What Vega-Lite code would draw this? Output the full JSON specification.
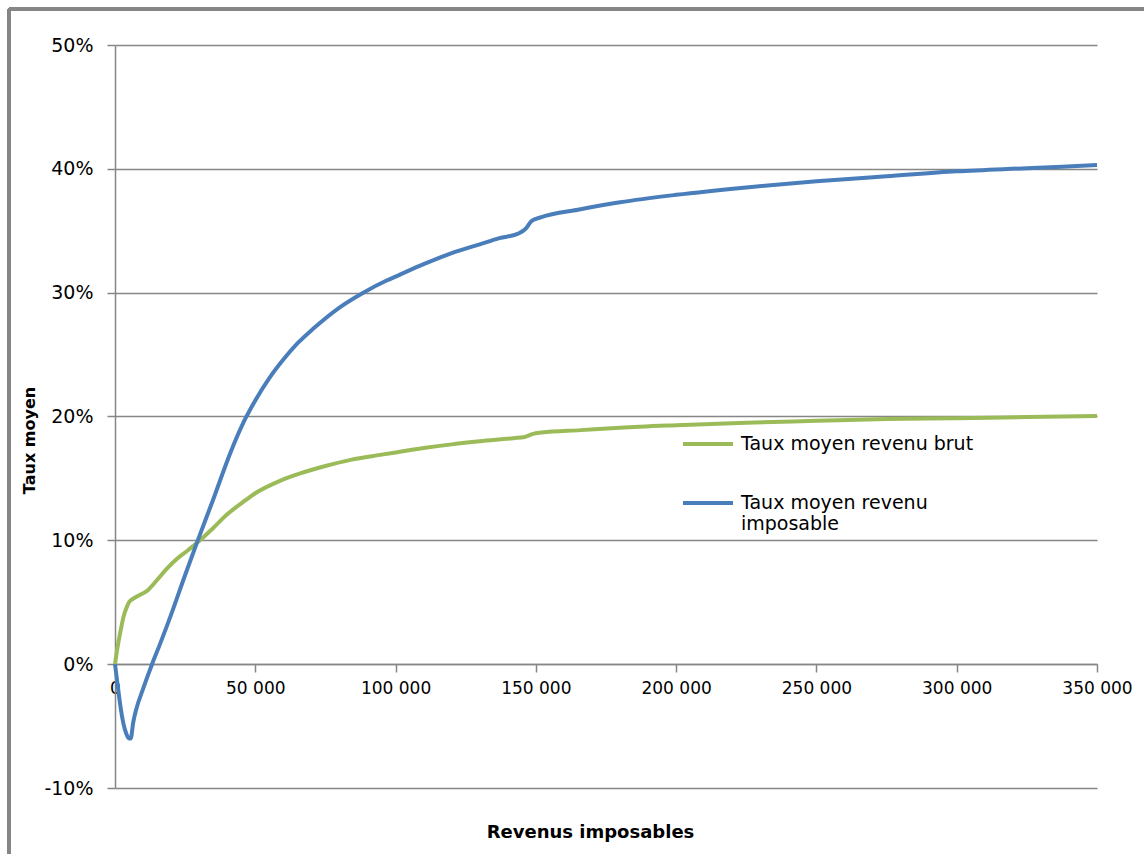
{
  "$schema": "https://vega.github.io/schema/vega-lite/v6.json",
  "autosize": "none",
  "width": 982,
  "height": 743,
  "padding": {"left": 115, "top": 45, "right": 47, "bottom": 66},
  "background": "white",
  "config": {
    "font": "DejaVu Sans",
    "view": {"stroke": null},
    "axis": {"labelFont": "DejaVu Sans", "titleFont": "DejaVu Sans", "labelColor": "#000000", "titleColor": "#000000"}
  },
  "data": {
    "values": [
      {"x": 0, "serie": "Taux moyen revenu brut", "taux": 0},
      {"x": 1000, "serie": "Taux moyen revenu brut", "taux": 0.015},
      {"x": 2000, "serie": "Taux moyen revenu brut", "taux": 0.027},
      {"x": 3000, "serie": "Taux moyen revenu brut", "taux": 0.038},
      {"x": 4170, "serie": "Taux moyen revenu brut", "taux": 0.046},
      {"x": 5000, "serie": "Taux moyen revenu brut", "taux": 0.050},
      {"x": 6500, "serie": "Taux moyen revenu brut", "taux": 0.053},
      {"x": 9000, "serie": "Taux moyen revenu brut", "taux": 0.056},
      {"x": 11300, "serie": "Taux moyen revenu brut", "taux": 0.059},
      {"x": 15000, "serie": "Taux moyen revenu brut", "taux": 0.068},
      {"x": 18400, "serie": "Taux moyen revenu brut", "taux": 0.077},
      {"x": 22000, "serie": "Taux moyen revenu brut", "taux": 0.085},
      {"x": 26000, "serie": "Taux moyen revenu brut", "taux": 0.092},
      {"x": 30300, "serie": "Taux moyen revenu brut", "taux": 0.100},
      {"x": 35000, "serie": "Taux moyen revenu brut", "taux": 0.110},
      {"x": 40000, "serie": "Taux moyen revenu brut", "taux": 0.121},
      {"x": 45700, "serie": "Taux moyen revenu brut", "taux": 0.131},
      {"x": 50000, "serie": "Taux moyen revenu brut", "taux": 0.138},
      {"x": 58800, "serie": "Taux moyen revenu brut", "taux": 0.148},
      {"x": 66000, "serie": "Taux moyen revenu brut", "taux": 0.154},
      {"x": 75000, "serie": "Taux moyen revenu brut", "taux": 0.160},
      {"x": 84000, "serie": "Taux moyen revenu brut", "taux": 0.165},
      {"x": 94500, "serie": "Taux moyen revenu brut", "taux": 0.169},
      {"x": 100000, "serie": "Taux moyen revenu brut", "taux": 0.171},
      {"x": 110000, "serie": "Taux moyen revenu brut", "taux": 0.1745},
      {"x": 120000, "serie": "Taux moyen revenu brut", "taux": 0.1775},
      {"x": 130000, "serie": "Taux moyen revenu brut", "taux": 0.180},
      {"x": 142000, "serie": "Taux moyen revenu brut", "taux": 0.1825},
      {"x": 146000, "serie": "Taux moyen revenu brut", "taux": 0.1835},
      {"x": 149000, "serie": "Taux moyen revenu brut", "taux": 0.186},
      {"x": 152000, "serie": "Taux moyen revenu brut", "taux": 0.187},
      {"x": 166000, "serie": "Taux moyen revenu brut", "taux": 0.189},
      {"x": 180000, "serie": "Taux moyen revenu brut", "taux": 0.191},
      {"x": 200000, "serie": "Taux moyen revenu brut", "taux": 0.193},
      {"x": 225000, "serie": "Taux moyen revenu brut", "taux": 0.195},
      {"x": 250000, "serie": "Taux moyen revenu brut", "taux": 0.1965},
      {"x": 275000, "serie": "Taux moyen revenu brut", "taux": 0.198},
      {"x": 300000, "serie": "Taux moyen revenu brut", "taux": 0.1985},
      {"x": 325000, "serie": "Taux moyen revenu brut", "taux": 0.1995},
      {"x": 350000, "serie": "Taux moyen revenu brut", "taux": 0.2005},
      {"x": 0, "serie": "Taux moyen revenu imposable", "taux": 0},
      {"x": 1000, "serie": "Taux moyen revenu imposable", "taux": -0.018},
      {"x": 2000, "serie": "Taux moyen revenu imposable", "taux": -0.035},
      {"x": 3000, "serie": "Taux moyen revenu imposable", "taux": -0.048},
      {"x": 4000, "serie": "Taux moyen revenu imposable", "taux": -0.056},
      {"x": 5000, "serie": "Taux moyen revenu imposable", "taux": -0.060},
      {"x": 5600, "serie": "Taux moyen revenu imposable", "taux": -0.060},
      {"x": 6500, "serie": "Taux moyen revenu imposable", "taux": -0.047},
      {"x": 7500, "serie": "Taux moyen revenu imposable", "taux": -0.037},
      {"x": 10000, "serie": "Taux moyen revenu imposable", "taux": -0.020},
      {"x": 13200, "serie": "Taux moyen revenu imposable", "taux": 0},
      {"x": 16000, "serie": "Taux moyen revenu imposable", "taux": 0.016},
      {"x": 20000, "serie": "Taux moyen revenu imposable", "taux": 0.040},
      {"x": 25000, "serie": "Taux moyen revenu imposable", "taux": 0.072},
      {"x": 29500, "serie": "Taux moyen revenu imposable", "taux": 0.100},
      {"x": 35000, "serie": "Taux moyen revenu imposable", "taux": 0.133},
      {"x": 41000, "serie": "Taux moyen revenu imposable", "taux": 0.170},
      {"x": 46400, "serie": "Taux moyen revenu imposable", "taux": 0.198},
      {"x": 50000, "serie": "Taux moyen revenu imposable", "taux": 0.213},
      {"x": 55000, "serie": "Taux moyen revenu imposable", "taux": 0.231},
      {"x": 60000, "serie": "Taux moyen revenu imposable", "taux": 0.246},
      {"x": 65000, "serie": "Taux moyen revenu imposable", "taux": 0.259},
      {"x": 70700, "serie": "Taux moyen revenu imposable", "taux": 0.271},
      {"x": 80000, "serie": "Taux moyen revenu imposable", "taux": 0.288},
      {"x": 88500, "serie": "Taux moyen revenu imposable", "taux": 0.300},
      {"x": 97000, "serie": "Taux moyen revenu imposable", "taux": 0.310},
      {"x": 100000, "serie": "Taux moyen revenu imposable", "taux": 0.313},
      {"x": 110000, "serie": "Taux moyen revenu imposable", "taux": 0.323},
      {"x": 120000, "serie": "Taux moyen revenu imposable", "taux": 0.332},
      {"x": 130000, "serie": "Taux moyen revenu imposable", "taux": 0.339},
      {"x": 137000, "serie": "Taux moyen revenu imposable", "taux": 0.344},
      {"x": 144000, "serie": "Taux moyen revenu imposable", "taux": 0.348},
      {"x": 146500, "serie": "Taux moyen revenu imposable", "taux": 0.352},
      {"x": 148500, "serie": "Taux moyen revenu imposable", "taux": 0.358},
      {"x": 152000, "serie": "Taux moyen revenu imposable", "taux": 0.361},
      {"x": 165000, "serie": "Taux moyen revenu imposable", "taux": 0.367},
      {"x": 180000, "serie": "Taux moyen revenu imposable", "taux": 0.373},
      {"x": 200000, "serie": "Taux moyen revenu imposable", "taux": 0.379},
      {"x": 225000, "serie": "Taux moyen revenu imposable", "taux": 0.385},
      {"x": 250000, "serie": "Taux moyen revenu imposable", "taux": 0.390},
      {"x": 275000, "serie": "Taux moyen revenu imposable", "taux": 0.394},
      {"x": 300000, "serie": "Taux moyen revenu imposable", "taux": 0.398},
      {"x": 325000, "serie": "Taux moyen revenu imposable", "taux": 0.4005},
      {"x": 350000, "serie": "Taux moyen revenu imposable", "taux": 0.403}
    ]
  },
  "layer": [
    {
      "mark": {"type": "rule", "color": "#868686", "strokeWidth": 3},
      "encoding": {
        "x": {"datum": -37800, "type": "quantitative"},
        "x2": {"datum": 420000},
        "y": {"datum": 0.529, "type": "quantitative"}
      }
    },
    {
      "mark": {"type": "rule", "color": "#868686", "strokeWidth": 3},
      "encoding": {
        "x": {"datum": -37800, "type": "quantitative"},
        "y": {"datum": 0.529, "type": "quantitative"},
        "y2": {"datum": -0.17}
      }
    },
    {
      "mark": {"type": "line", "strokeWidth": 4, "interpolate": "monotone"},
      "encoding": {
        "x": {
          "field": "x",
          "type": "quantitative",
          "scale": {"domain": [0, 350000], "nice": false, "zero": false},
          "axis": {
            "title": "Revenus imposables",
            "titleFontSize": 18,
            "titleFontWeight": "bold",
            "titleX": 475,
            "titleY": 168,
            "titleBaseline": "middle",
            "offset": -124,
            "values": [0, 50000, 100000, 150000, 200000, 250000, 300000, 350000],
            "labelExpr": "replace(format(datum.value, ','), ',', ' ')",
            "labelFontSize": 17,
            "labelPadding": 8,
            "labelFlush": false,
            "labelOverlap": false,
            "grid": false,
            "domainColor": "#868686",
            "domainWidth": 1.5,
            "tickColor": "#868686",
            "tickWidth": 1.5,
            "tickSize": 8
          }
        },
        "y": {
          "field": "taux",
          "type": "quantitative",
          "scale": {"domain": [-0.1, 0.5], "nice": false, "zero": false},
          "axis": {
            "title": "Taux moyen",
            "titleFontSize": 16,
            "titleFontWeight": "bold",
            "titleX": -86,
            "titleY": 395,
            "titleBaseline": "middle",
            "titleAlign": "center",
            "titleAngle": -90,
            "values": [-0.1, 0, 0.1, 0.2, 0.3, 0.4, 0.5],
            "labelExpr": "round(datum.value * 100) + '%'",
            "labelFontSize": 19,
            "labelPadding": 14,
            "grid": true,
            "gridColor": "#868686",
            "gridWidth": 1.5,
            "gridOpacity": 1,
            "domainColor": "#868686",
            "domainWidth": 1.5,
            "tickColor": "#868686",
            "tickWidth": 1.5,
            "tickSize": 8
          }
        },
        "color": {
          "field": "serie",
          "type": "nominal",
          "scale": {
            "domain": ["Taux moyen revenu brut", "Taux moyen revenu imposable"],
            "range": ["#9BBB59", "#4A7EBB"]
          },
          "legend": {
            "title": null,
            "orient": "none",
            "legendX": 566,
            "legendY": 372,
            "padding": 0,
            "symbolType": "stroke",
            "symbolSize": 2500,
            "symbolStrokeWidth": 4,
            "labelFontSize": 19,
            "labelColor": "#000000",
            "labelLimit": 400,
            "labelOffset": 6,
            "labelLineHeight": 27,
            "rowPadding": 22,
            "labelExpr": "datum.label == 'Taux moyen revenu imposable' ? ['Taux moyen revenu', 'imposable'] : datum.label"
          }
        }
      }
    }
  ]
}
